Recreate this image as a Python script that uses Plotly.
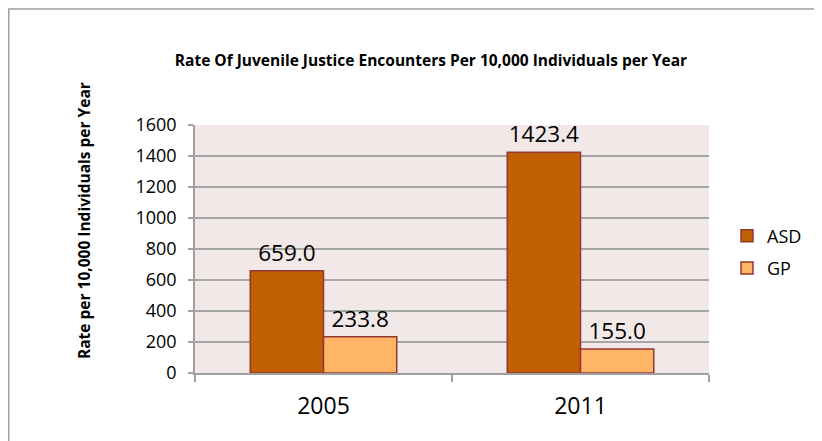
import plotly.graph_objects as go

years = ["2005", "2011"]
asd_rates = [659.0, 1423.4]
gp_rates = [233.8, 155.0]
series_names = ["ASD", "GP"]
y_ticks = [0, 200, 400, 600, 800, 1000, 1200, 1400, 1600]

FONT = "Open Sans"
border = "#953735"
W, H = 814, 433
L, R, T, B = 187, 113, 117, 68
PW, PH = W - L - R, H - T - B

def px(fx):
    return (fx - L) / PW

def py(fy):
    return (H - B - fy) / PH

fig = go.Figure()
fig.add_trace(go.Bar(
    x=years, y=asd_rates, name=series_names[0], legendgroup="a",
    marker=dict(color="#C06000", line=dict(color=border, width=1.5)),
    texttemplate="%{y:.1f}", textposition="outside",
    textfont=dict(size=22.5, color="black", family=FONT), cliponaxis=False,
))
fig.add_trace(go.Bar(
    x=years, y=gp_rates, name=series_names[1], legendgroup="b",
    marker=dict(color="#FFB566", line=dict(color=border, width=1.5)),
    texttemplate="%{y:.1f}", textposition="outside",
    textfont=dict(size=22.5, color="black", family=FONT), cliponaxis=False,
))

fig.update_layout(
    width=W, height=H,
    margin=dict(l=L, r=R, t=T, b=B),
    paper_bgcolor="white",
    plot_bgcolor="#F2E8E8",
    barmode="group",
    bargap=0.43, bargroupgap=0,
    font=dict(family=FONT, color="black"),
    title=dict(
        text="<b>Rate Of Juvenile Justice Encounters Per 10,000 Individuals per Year</b>",
        font=dict(size=15.5, family=FONT, color="black"),
        x=423 / W, xanchor="center", xref="container",
        y=1 - 53 / H, yanchor="middle", yref="container",
    ),
    legend=dict(
        x=px(719), xanchor="left", y=py(244), yanchor="middle",
        font=dict(size=18, family=FONT), bgcolor="rgba(0,0,0,0)",
        tracegroupgap=6, itemwidth=30,
    ),
    showlegend=True,
    xaxis=dict(
        showline=True, linecolor="#A0A0A0", linewidth=1.5,
        ticks="outside", tickson="boundaries", ticklen=7, tickcolor="#A0A0A0", tickwidth=1.5,
        tickfont=dict(size=23, family=FONT), showgrid=False,
        ticklabelstandoff=12,
    ),
    yaxis=dict(
        range=[0, 1600], tickvals=y_ticks,
        showline=True, linecolor="#A0A0A0", linewidth=1.5,
        ticks="outside", ticklen=5, tickcolor="#A0A0A0", tickwidth=1.5,
        showgrid=True, gridcolor="#A6A6A6", gridwidth=1.5,
        tickfont=dict(size=18, family=FONT),
        ticklabelstandoff=8,
        zeroline=False,
    ),
    annotations=[dict(
        text="<b>Rate per 10,000 Individuals per Year</b>",
        xref="paper", yref="paper", x=px(76), y=py(213),
        xanchor="center", yanchor="middle", textangle=-90, showarrow=False,
        font=dict(size=15.5, family=FONT, color="black"),
    )],
    shapes=[dict(
        type="rect", xref="paper", yref="paper",
        x0=px(0.75), x1=px(W + 20),
        y0=py(H + 20), y1=py(1),
        line=dict(color="#A0A0A0", width=1.5), fillcolor="rgba(0,0,0,0)",
        layer="below",
    )],
)

fig.write_html("out.html")
